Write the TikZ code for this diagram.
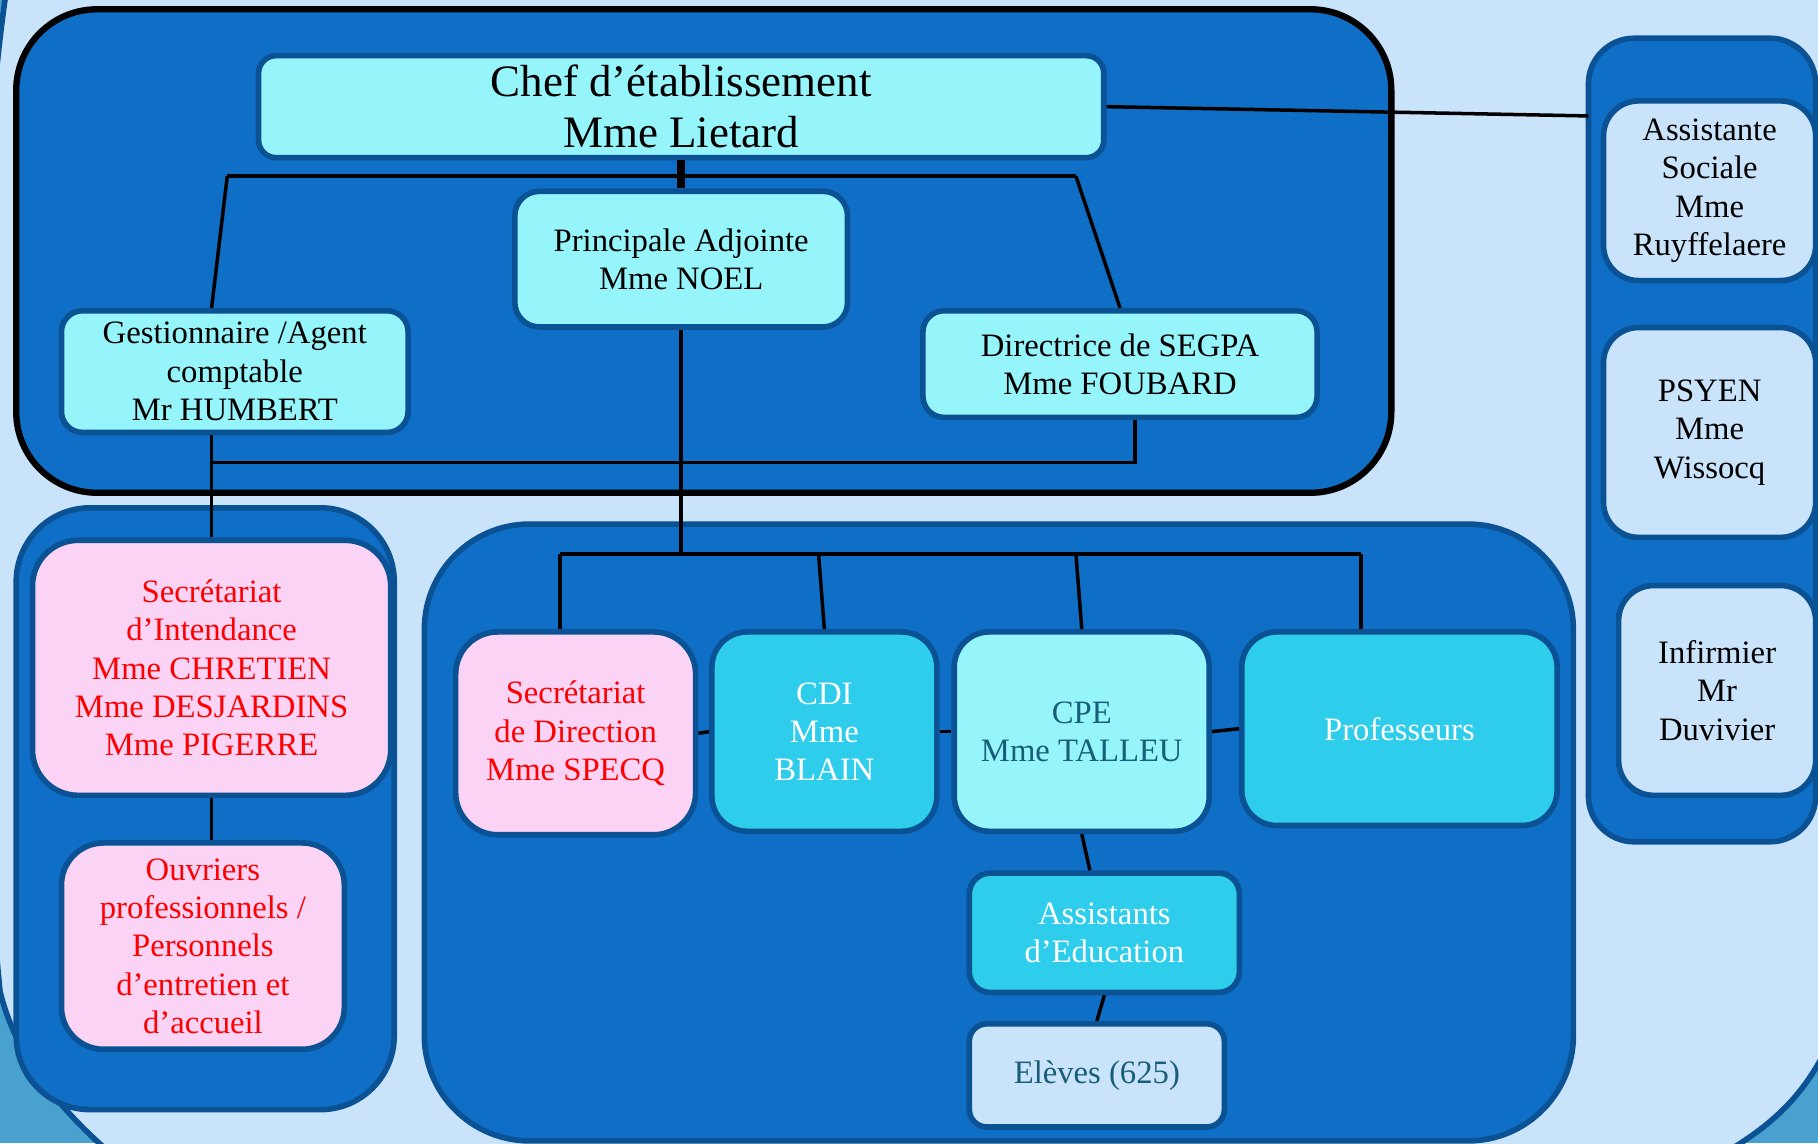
\documentclass[tikz,border=0pt]{standalone}
\usepackage{fontspec}
\setmainfont{Liberation Serif}
\definecolor{bgmid}{HTML}{48A1CF}
\definecolor{bglight}{HTML}{C9E3FA}
\definecolor{grpblue}{HTML}{0F6FC6}
\definecolor{boxline}{HTML}{0B5294}
\definecolor{cyanlt}{HTML}{95F5FA}
\definecolor{cyanmd}{HTML}{2ECDEC}
\definecolor{rose}{HTML}{FAD3F5}
\definecolor{teal}{HTML}{185E78}

\begin{document}
\begin{tikzpicture}
  [x=0.011594cm,y=-0.011594cm,
   box/.style={draw=boxline,line width=1.6pt,rounded corners=#1,align=center,inner sep=0pt,
     font=\fontsize{9.3}{10.9}\selectfont},
   box/.default=6pt,
   sz/.style 2 args={minimum width=#1*0.011594cm,minimum height=#2*0.011594cm},
   link/.style={line width=1pt},
   grp/.style={fill=grpblue,draw=boxline,line width=1.6pt}]
  \useasboundingbox (0,0) rectangle (1568,986);
  \clip (0,0) rectangle (1568,986);

  % background
  \fill[bgmid] (0,0) rectangle (1568,986);
  \draw[boxline,line width=1.6pt,fill=bglight] (5,-5) -- (1575,-5) -- (1575,905)
    .. controls (1555,945) and (1530,968) .. (1495,990) -- (90,990)
    .. controls (45,950) and (12,905) .. (0,855)
    .. controls (-25,600) and (-25,200) .. (5,-5) -- cycle;

  % groups
  \draw[fill=grpblue,draw=black,line width=1.8pt,rounded corners=23pt] (14,8) rectangle (1200,425);
  \draw[grp,rounded corners=21pt] (14,438) rectangle (340,957);
  \draw[grp,rounded corners=30pt] (366,452) rectangle (1357,984);
  \draw[grp,rounded corners=13pt] (1370,33) rectangle (1566,726);

  % direction
  \node[box=5pt,sz={729}{88},fill=cyanlt,font=\fontsize{12.8}{14.5}\selectfont] (chef) at (587.5,92) {Chef d’établissement\\Mme Lietard};
  \node[box=7pt,sz={287}{117},fill=cyanlt] (adj) at (587.5,223.5) {Principale Adjointe\\Mme NOEL};
  \node[box=6pt,sz={299}{105},fill=cyanlt] (gest) at (202.5,320.5) {Gestionnaire /Agent\\comptable\\Mr HUMBERT};
  \node[box=6pt,sz={340}{92},fill=cyanlt] (segpa) at (966,314) {Directrice de SEGPA\\Mme FOUBARD};

  % intendance
  \node[box=13pt,sz={309}{220},fill=rose,text=red] (intend) at (182.5,576) {Secrétariat\\d’Intendance\\Mme CHRETIEN\\Mme DESJARDINS\\Mme PIGERRE};
  \node[box=12pt,sz={244}{178},fill=rose,text=red] (ouvr) at (175,816) {Ouvriers\\professionnels /\\Personnels\\d’entretien et\\d’accueil};

  % vie scolaire et enseignement
  \node[box=12pt,sz={207}{175},fill=rose,text=red] (secdir) at (496.5,632.5) {Secrétariat\\de Direction\\Mme SPECQ};
  \node[box=10pt,sz={194}{172},fill=cyanmd,text=white] (cdi) at (711,631) {CDI\\Mme\\BLAIN};
  \node[box=10pt,sz={220}{172},fill=cyanlt,text=teal] (cpe) at (933,631) {CPE\\Mme TALLEU};
  \node[box=10pt,sz={272}{167},fill=cyanmd,text=white] (prof) at (1207,628.5) {Professeurs};
  \node[box=6pt,sz={233}{103},fill=cyanmd,text=white] (aed) at (952.5,804.5) {Assistants\\d’Education};
  \node[box=5pt,sz={220}{89},fill=bglight,text=teal] (eleves) at (946,927.5) {Elèves (625)};

  % partenaires
  \node[box=10pt,sz={183}{155},fill=bglight] (assoc) at (1474.5,164.5) {Assistante\\Sociale\\Mme\\Ruyffelaere};
  \node[box=10pt,sz={183}{181},fill=bglight] (psyen) at (1474.5,373) {PSYEN\\Mme\\Wissocq};
  \node[box=10pt,sz={170}{181},fill=bglight] (infirm) at (1481,595.5) {Infirmier\\Mr\\Duvivier};

  % links
  \coordinate (tl) at (196,152);
  \coordinate (tr) at (928,152);
  \coordinate (ml) at (483,478);
  \coordinate (mc) at (706,478);
  \coordinate (mp) at (928,478);
  \coordinate (mr) at (1174,478);
  \coordinate (sidein) at (1370,100);

  \draw[line width=2.2pt] (chef.south) -- (adj.north);
  \draw[link] (tl) -- (tr);
  \draw[link] (tl) -- (intend.north |- gest.north);
  \draw[link] (tr) -- (segpa.north);
  \draw[link] (chef.east) -- (sidein);
  \draw[link] (intend.north |- gest.south) -- (intend.north);
  \draw[link] (intend.north |- 0,399) -| (segpa.south -| 979,0);
  \draw[link] (intend.south) -- (intend.south |- ouvr.north);
  \draw[link] (adj.south) -- (adj.south |- ml);
  \draw[link] (ml) -- (mr);
  \draw[link] (ml) -- (ml |- secdir.north);
  \draw[link] (mc) -- (cdi.north);
  \draw[link] (mp) -- (cpe.north);
  \draw[link] (mr) -- (mr |- prof.north);
  \draw[link] (secdir.east) -- (cdi.west);
  \draw[link] (cdi.east) -- (cpe.west);
  \draw[link] (cpe.east) -- (prof.west);
  \draw[link] (cpe.south) -- (aed.north -| 940,0);
  \draw[link] (aed.south) -- (eleves.north);
\end{tikzpicture}
\end{document}
